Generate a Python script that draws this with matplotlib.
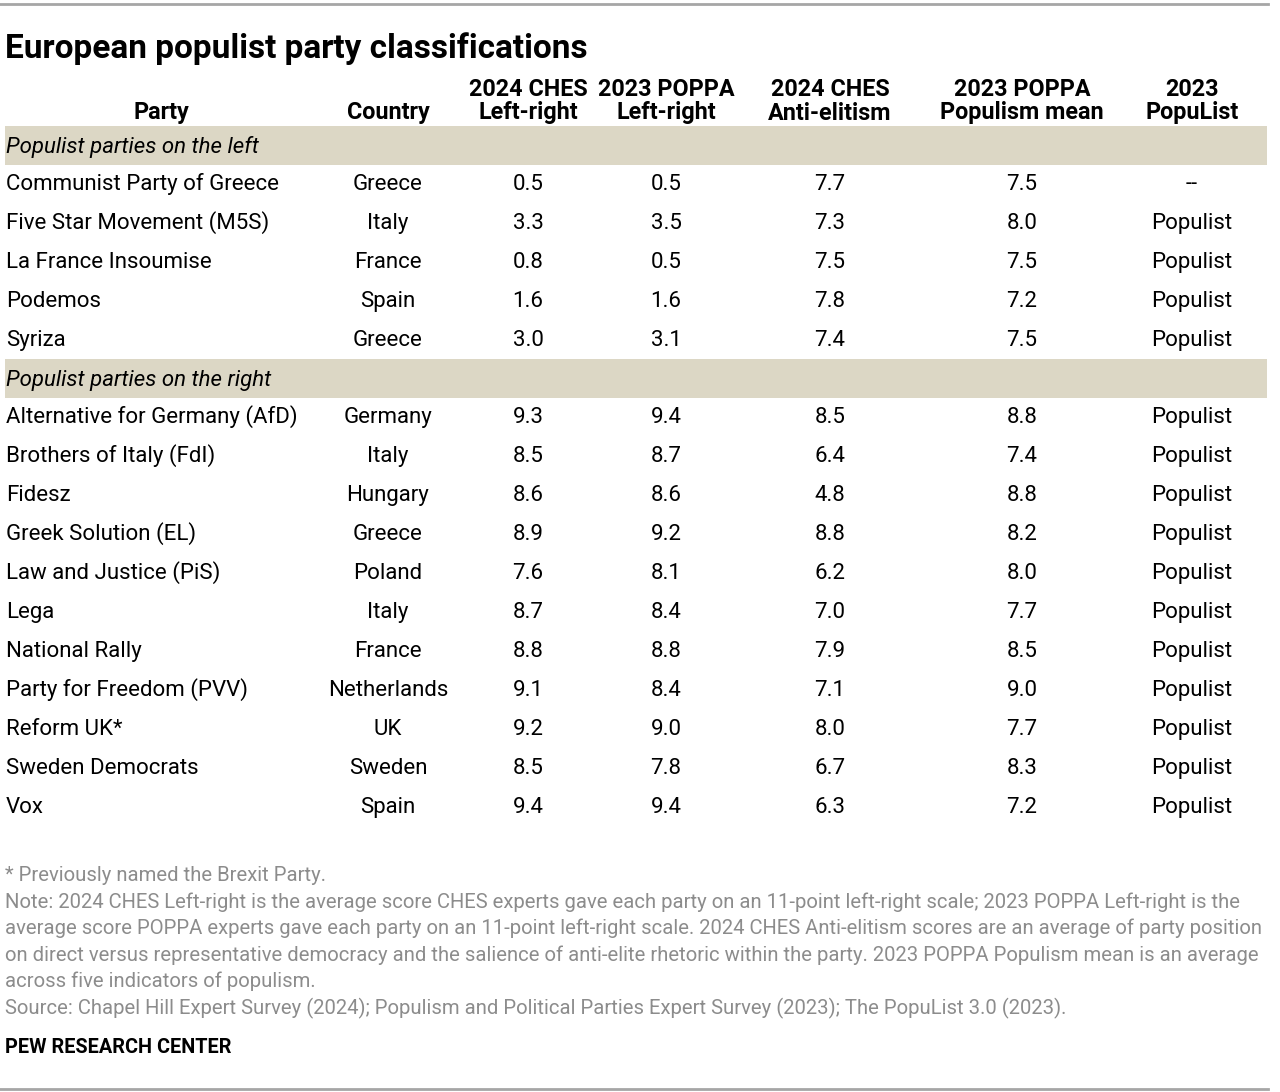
import matplotlib
matplotlib.use('Agg')
import matplotlib.pyplot as plt
from matplotlib import font_manager
from matplotlib.patches import Rectangle
from matplotlib.lines import Line2D

# Data
columns = ['Party', 'Country', '2024 CHES\nLeft-right', '2023 POPPA\nLeft-right',
           '2024 CHES\nAnti-elitism', '2023 POPPA\nPopulism mean', '2023\nPopuList']

left_group = 'Populist parties on the left'
left_parties = ['Communist Party of Greece', 'Five Star Movement (M5S)', 'La France Insoumise',
                'Podemos', 'Syriza']
left_countries = ['Greece', 'Italy', 'France', 'Spain', 'Greece']
left_ches_lr = [0.5, 3.3, 0.8, 1.6, 3.0]
left_poppa_lr = [0.5, 3.5, 0.5, 1.6, 3.1]
left_ches_anti = [7.7, 7.3, 7.5, 7.8, 7.4]
left_poppa_mean = [7.5, 8.0, 7.5, 7.2, 7.5]
left_populist = ['--', 'Populist', 'Populist', 'Populist', 'Populist']

right_group = 'Populist parties on the right'
right_parties = ['Alternative for Germany (AfD)', 'Brothers of Italy (FdI)', 'Fidesz',
                 'Greek Solution (EL)', 'Law and Justice (PiS)', 'Lega', 'National Rally',
                 'Party for Freedom (PVV)', 'Reform UK*', 'Sweden Democrats', 'Vox']
right_countries = ['Germany', 'Italy', 'Hungary', 'Greece', 'Poland', 'Italy', 'France',
                   'Netherlands', 'UK', 'Sweden', 'Spain']
right_ches_lr = [9.3, 8.5, 8.6, 8.9, 7.6, 8.7, 8.8, 9.1, 9.2, 8.5, 9.4]
right_poppa_lr = [9.4, 8.7, 8.6, 9.2, 8.1, 8.4, 8.8, 8.4, 9.0, 7.8, 9.4]
right_ches_anti = [8.5, 6.4, 4.8, 8.8, 6.2, 7.0, 7.9, 7.1, 8.0, 6.7, 6.3]
right_poppa_mean = [8.8, 7.4, 8.8, 8.2, 8.0, 7.7, 8.5, 9.0, 7.7, 8.3, 7.2]
right_populist = ['Populist'] * 11

title = 'European populist party classifications'
notes = [
    '* Previously named the Brexit Party.',
    'Note: 2024 CHES Left-right is the average score CHES experts gave each party on an 11-point left-right scale; 2023 POPPA Left-right is the',
    'average score POPPA experts gave each party on an 11-point left-right scale. 2024 CHES Anti-elitism scores are an average of party position',
    'on direct versus representative democracy and the salience of anti-elite rhetoric within the party. 2023 POPPA Populism mean is an average',
    'across five indicators of populism.',
    'Source: Chapel Hill Expert Survey (2024); Populism and Political Parties Expert Survey (2023); The PopuList 3.0 (2023).',
]
source_label = 'PEW RESEARCH CENTER'

# Fonts
available = {f.name for f in font_manager.fontManager.ttflist}
narrow = 'Liberation Sans Narrow' if 'Liberation Sans Narrow' in available else 'Roboto'
body = 'Roboto' if 'Roboto' in available else 'DejaVu Sans'

W, H = 1280, 1092
fig = plt.figure(figsize=(W / 100, H / 100), dpi=100)
ax = fig.add_axes([0, 0, 1, 1])
ax.set_xlim(0, W)
ax.set_ylim(H, 0)
ax.axis('off')

# top / bottom rules
ax.add_line(Line2D([0, 1268], [4, 4], color='#a6a6a6', lw=2))
ax.add_line(Line2D([0, 1268], [1089, 1089], color='#a6a6a6', lw=2))

ax.text(5, 58, title, fontsize=24, fontweight='bold', family=narrow, va='baseline', ha='left')

col_x = [161, 388, 528, 666, 830, 1022, 1192]
hfs = 16.8
for cx, name in zip(col_x, columns):
    parts = name.split('\n')
    if len(parts) == 2:
        ax.text(cx, 95.5, parts[0], fontsize=hfs, fontweight='bold', family=narrow,
                ha='center', va='baseline')
    ax.text(cx, 119.5, parts[-1], fontsize=hfs, fontweight='bold', family=narrow,
            ha='center', va='baseline')

band_color = '#dcd7c5'
fs = 16


def draw_group(label, band_y, first_row_y, parties, countries, a, b, c, d, e):
    ax.add_patch(Rectangle((5, band_y - 19.5), 1262, 39, color=band_color, lw=0))
    ax.text(6, band_y + 8, label, fontsize=fs, style='italic', family=body, va='baseline', ha='left')
    for i, party in enumerate(parties):
        y = first_row_y + 39 * i + 8
        ax.text(6, y, party, fontsize=fs, family=body, va='baseline', ha='left')
        vals = [countries[i], f'{a[i]:.1f}', f'{b[i]:.1f}', f'{c[i]:.1f}', f'{d[i]:.1f}', e[i]]
        for cx, v in zip(col_x[1:], vals):
            ax.text(cx, y, v, fontsize=fs, family=body, va='baseline', ha='center')


draw_group(left_group, 145, 182, left_parties, left_countries, left_ches_lr, left_poppa_lr,
           left_ches_anti, left_poppa_mean, left_populist)
draw_group(right_group, 378, 415, right_parties, right_countries, right_ches_lr, right_poppa_lr,
           right_ches_anti, right_poppa_mean, right_populist)

for i, line in enumerate(notes):
    ax.text(5, 881 + 26.6 * i, line, fontsize=14.6, family=narrow, color='#8c8c8c',
            va='baseline', ha='left')

ax.text(5, 1053, source_label, fontsize=14.3, fontweight='bold', family=narrow,
        va='baseline', ha='left')

fig.savefig('out.png', dpi=100)
